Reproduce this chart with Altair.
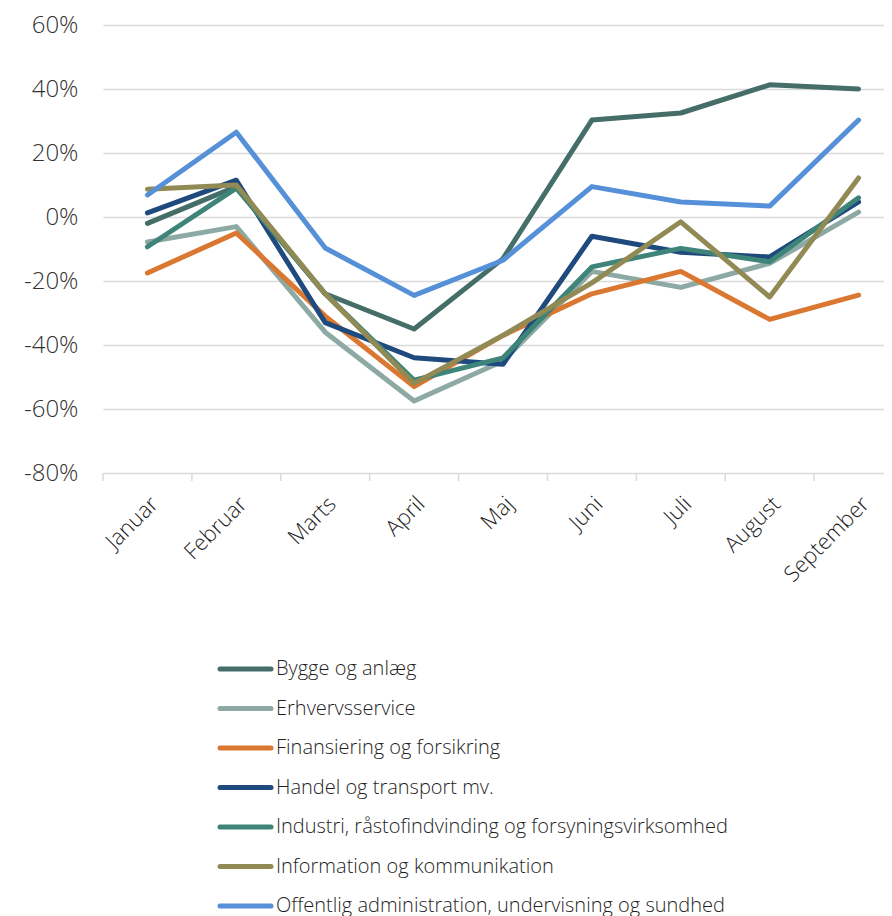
import altair as alt
import pandas as pd

months = ["Januar", "Februar", "Marts", "April", "Maj", "Juni", "Juli", "August", "September"]

series_names = [
    "Bygge og anlæg",
    "Erhvervsservice",
    "Finansiering og forsikring",
    "Handel og transport mv.",
    "Industri, råstofindvinding og forsyningsvirksomhed",
    "Information og kommunikation",
    "Offentlig administration, undervisning og sundhed",
]
colors = ["#456E68", "#8DA9A3", "#DA7730", "#1F4A7D", "#3E8478", "#918A55", "#5590D8"]

bygge = [-2, 9.5, -24, -35, -13, 30.3, 32.5, 41.3, 40]
erhverv = [-7.8, -3, -36, -57.5, -45, -17, -22, -14.5, 1.5]
finans = [-17.5, -5, -31, -53, -37, -24, -17, -32, -24.4]
handel = [1.3, 11.5, -33, -44, -46, -6, -11, -12.5, 4.7]
industri = [-9.3, 9, -24, -51, -44, -15.6, -9.8, -14, 6]
info = [8.7, 10, -24, -52, -37, -20.6, -1.5, -25, 12.2]
offentlig = [6.9, 26.5, -9.7, -24.5, -13.5, 9.5, 4.7, 3.4, 30.3]

y_ticks = [-80, -60, -40, -20, 0, 20, 40, 60]

all_series = [bygge, erhverv, finans, handel, industri, info, offentlig]
rows = []
for name, vals in zip(series_names, all_series):
    for m, v in zip(months, vals):
        rows.append({"month": m, "series": name, "value": v})
df = pd.DataFrame(rows)
leg_df = pd.DataFrame({"series": series_names, "idx": list(range(len(series_names)))})
tick_df = pd.DataFrame({"month": months})

FONT = "Open Sans"
W, H = 781, 448

color_scale = alt.Scale(domain=series_names, range=colors)
x_scale = alt.Scale(type="band", domain=months, range=[0, 800], paddingInner=0, paddingOuter=0)

lines = alt.Chart(df).mark_line(strokeWidth=5, strokeCap="round", strokeJoin="round").encode(
    x=alt.X("month:N", scale=x_scale, sort=months,
            axis=alt.Axis(title=None, ticks=False, domain=False, grid=False,
                          labelAngle=-45, labelFontSize=22, labelFont=FONT,
                          labelFontWeight=300, labelColor="#1F1F1F", labelPadding=20)),
    y=alt.Y("value:Q", scale=alt.Scale(domain=[-80, 60], nice=False),
            axis=alt.Axis(title=None, values=y_ticks, labelExpr="datum.value + '%'",
                          ticks=False, domain=False, grid=True, gridColor="#D9D9D9",
                          gridWidth=1.5, labelFontSize=24, labelFont=FONT,
                          labelFontWeight=300, labelColor="#333333", labelPadding=25)),
    color=alt.Color("series:N", scale=color_scale, legend=None),
    order=alt.Order("series:N"),
)

xticks = alt.Chart(tick_df).mark_rule(color="#D9D9D9", strokeWidth=1.5).encode(
    x=alt.X("month:N", scale=x_scale, sort=months, bandPosition=0),
    y=alt.value(H),
    y2=alt.value(H + 8),
)

leg_y = alt.Y("idx:Q", scale=alt.Scale(domain=[0, 6], range=[644, 881]), axis=None)
leg_rule = alt.Chart(leg_df).mark_rule(strokeWidth=5, strokeCap="round").encode(
    x=alt.value(117), x2=alt.value(168), y=leg_y,
    color=alt.Color("series:N", scale=color_scale, legend=None),
)
leg_text = alt.Chart(leg_df).mark_text(
    align="left", baseline="middle", fontSize=20, font=FONT, fontWeight=300, color="#1F1F1F"
).encode(x=alt.value(173), y=leg_y, text="series:N")

chart = alt.layer(lines, xticks, leg_rule, leg_text).resolve_scale(y="independent").properties(
    width=W, height=H,
    autosize=alt.AutoSizeParams(type="none"),
    padding={"left": 95, "top": 17, "right": 0, "bottom": 443},
).configure_view(stroke=None)

chart.save("out.html", embed_options={"renderer": "svg", "actions": False})
